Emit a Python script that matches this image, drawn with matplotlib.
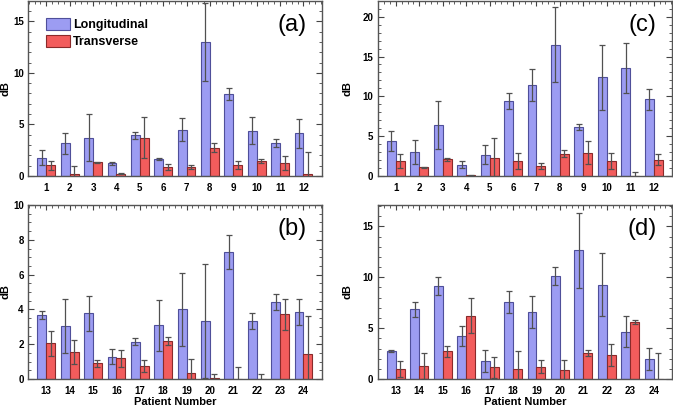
import matplotlib
matplotlib.use("Agg")
import matplotlib.pyplot as plt
import numpy as np
from matplotlib.ticker import MultipleLocator, AutoMinorLocator
from matplotlib.patches import Patch

plt.rcParams['font.family'] = ['Liberation Sans', 'DejaVu Sans']

patients_top = list(range(1, 13))
patients_bot = list(range(13, 25))

# Panel (a)
a_long = [1.78, 3.17, 3.72, 1.2, 3.95, 1.62, 4.5, 13.0, 7.94, 4.37, 3.17, 4.15]
a_long_err = [0.7, 1.0, 2.3, 0.1, 0.35, 0.08, 1.15, 3.8, 0.6, 1.3, 0.4, 1.4]
a_trans = [1.04, 0.15, 1.33, 0.2, 3.72, 0.85, 0.9, 2.75, 1.04, 1.4, 1.23, 0.15]
a_trans_err = [0.45, 0.85, 0.05, 0.05, 1.95, 0.3, 0.2, 0.4, 0.42, 0.2, 0.65, 2.15]

# Panel (b)
b_long = [3.66, 3.05, 3.77, 1.28, 2.15, 3.08, 4.02, 3.33, 7.3, 3.33, 4.4, 3.85]
b_long_err = [0.23, 1.55, 1.03, 0.42, 0.2, 1.45, 2.1, 3.27, 0.98, 0.44, 0.46, 0.75]
b_trans = [2.05, 1.55, 0.92, 1.19, 0.75, 2.18, 0.33, 0.06, 0.0, 0.0, 3.72, 1.42]
b_trans_err = [0.7, 0.7, 0.2, 0.5, 0.36, 0.23, 0.82, 0.25, 0.7, 0.27, 0.9, 2.18]

# Panel (c)
c_long = [4.39, 2.97, 6.4, 1.42, 2.64, 9.41, 11.42, 16.5, 6.15, 12.4, 13.56, 9.62]
c_long_err = [1.25, 1.5, 3.0, 0.4, 1.2, 0.95, 2.0, 4.7, 0.4, 4.1, 3.2, 1.35]
c_trans = [1.88, 1.05, 2.09, 0.05, 2.22, 1.88, 1.26, 2.8, 2.93, 1.84, 0.0, 2.05]
c_trans_err = [0.85, 0.05, 0.2, 0.1, 2.6, 1.05, 0.35, 0.45, 1.45, 1.0, 0.45, 0.65]

# Panel (d)
d_long = [2.78, 6.86, 9.15, 4.25, 1.8, 7.55, 6.6, 10.16, 12.65, 9.25, 4.67, 1.96]
d_long_err = [0.1, 0.75, 0.92, 1.0, 1.08, 1.08, 1.57, 0.88, 3.7, 3.1, 1.57, 1.1]
d_trans = [0.95, 1.27, 2.71, 6.24, 1.14, 0.98, 1.2, 0.88, 2.52, 2.35, 5.65, 0.0]
d_trans_err = [0.78, 1.3, 0.5, 1.7, 1.0, 1.73, 0.63, 0.95, 0.3, 1.05, 0.2, 2.55]

blue_face = '#9c9cf2'
blue_edge = '#4f4f9a'
red_face = '#f25c5c'
red_edge = '#8a2a2a'
err_col = '#505050'

fig = plt.figure(figsize=(6.73, 4.08), dpi=100)

panels = [
    ('(a)', patients_top, a_long, a_long_err, a_trans, a_trans_err, 17.0, 0.0416, True, False),
    ('(c)', patients_top, c_long, c_long_err, c_trans, c_trans_err, 22.0, 0.561, False, False),
    ('(b)', patients_bot, b_long, b_long_err, b_trans, b_trans_err, 10.0, 0.0416, False, True),
    ('(d)', patients_bot, d_long, d_long_err, d_trans, d_trans_err, 17.1, 0.561, False, True),
]

w = 0.38
for label, pats, lo, loe, tr, tre, ymax, left, show_leg, bottom_row in panels:
    if bottom_row:
        bottom, top = 0.071, 0.4975
    else:
        bottom, top = 0.569, 0.998
    right = 0.478 if left < 0.5 else 0.9985
    ax = fig.add_axes([left, bottom, right - left, top - bottom])
    x = np.arange(len(pats)) + 1
    ax.bar(x - w / 2, lo, w, color=blue_face, edgecolor=blue_edge, linewidth=0.8, zorder=2)
    ax.bar(x + w / 2, tr, w, color=red_face, edgecolor=red_edge, linewidth=0.8, zorder=2)
    ax.errorbar(x - w / 2, lo, yerr=loe, fmt='none', ecolor=err_col, elinewidth=0.9,
                capsize=2.5, capthick=0.9, zorder=3)
    ax.errorbar(x + w / 2, tr, yerr=tre, fmt='none', ecolor=err_col, elinewidth=0.9,
                capsize=2.5, capthick=0.9, zorder=3)
    ax.set_xlim(0.22, 12.78)
    ax.set_ylim(0, ymax)
    ax.set_xticks(x)
    ax.set_xticklabels([str(p) for p in pats], fontsize=7, fontweight='bold')
    if ymax > 12:
        ax.yaxis.set_major_locator(MultipleLocator(5))
        ax.yaxis.set_minor_locator(MultipleLocator(1))
    else:
        ax.yaxis.set_major_locator(MultipleLocator(2))
        ax.yaxis.set_minor_locator(MultipleLocator(0.5))
    ax.xaxis.set_minor_locator(AutoMinorLocator(4))
    for t in ax.get_yticklabels():
        t.set_fontsize(7)
        t.set_fontweight('bold')
    ax.tick_params(axis='y', which='both', direction='in', left=True, right=True, colors='#444444',
                   labelcolor='black', pad=3)
    ax.tick_params(axis='y', which='major', length=4, width=0.8)
    ax.tick_params(axis='y', which='minor', length=2, width=0.6)
    ax.tick_params(axis='x', which='both', direction='in', bottom=False, top=True, colors='#444444',
                   labelcolor='black', pad=5)
    ax.tick_params(axis='x', which='major', length=3.5, width=0.8)
    ax.tick_params(axis='x', which='minor', length=2, width=0.6)
    for s in ax.spines.values():
        s.set_color('#555555')
        s.set_linewidth(1.0)
    ax.set_ylabel('dB', fontsize=8, fontweight='bold')
    if left < 0.5:
        ax.yaxis.set_label_coords(-0.058, 0.5)
    else:
        ax.yaxis.set_label_coords(-0.084, 0.5)
    if bottom_row:
        ax.set_xlabel('Patient Number', fontsize=8, fontweight='bold', labelpad=1)
    ax.text(0.90, 0.86, label, transform=ax.transAxes, fontsize=17, ha='center', va='center')
    if show_leg:
        handles = [Patch(facecolor=blue_face, edgecolor=blue_edge, linewidth=0.8, label='Longitudinal'),
                   Patch(facecolor=red_face, edgecolor=red_edge, linewidth=0.8, label='Transverse')]
        ax.legend(handles=handles, loc='upper left', bbox_to_anchor=(0.063, 0.90), frameon=False,
                  prop={'size': 9, 'weight': 'bold'}, handlelength=1.9, handleheight=1.05,
                  labelspacing=0.3, handletextpad=0.25, borderaxespad=0.0, borderpad=0.0)

fig.savefig('out.png', dpi=100)
